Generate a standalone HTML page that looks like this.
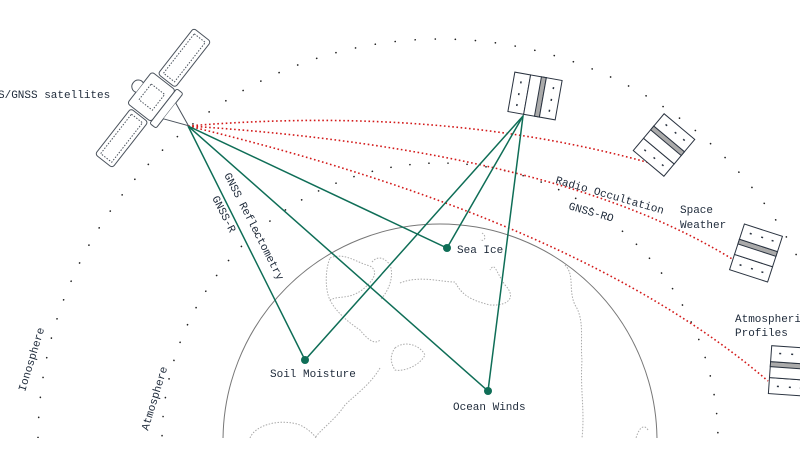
<!DOCTYPE html>
<html><head><meta charset="utf-8"><style>
html,body{margin:0;padding:0;background:#fff;width:800px;height:449px;overflow:hidden;}
svg{display:block}
text{font-family:"Liberation Mono",monospace;font-size:11px;fill:#1e2a3a;}
</style></head><body>
<svg width="800" height="449" viewBox="0 0 800 449" xmlns="http://www.w3.org/2000/svg">
<defs>
<clipPath id="c"><rect x="0" y="0" width="800" height="438"/></clipPath>
<g id="gps">
 <rect x="-24" y="-20" width="16" height="40" fill="#fff" stroke="#2a3340" stroke-width="1"/>
 <rect x="-8" y="-20" width="16" height="40" fill="#fff" stroke="#2a3340" stroke-width="1"/>
 <rect x="3" y="-20" width="5" height="40" fill="#aaa" stroke="#2a3340" stroke-width="1"/>
 <rect x="8" y="-20" width="16" height="40" fill="#fff" stroke="#2a3340" stroke-width="1"/>
 <g fill="#2a3340"><rect x="-17" y="-12" width="1.5" height="2"/><rect x="-17" y="0" width="1.5" height="2"/><rect x="-17" y="11" width="1.5" height="2"/>
 <rect x="16" y="-12" width="1.5" height="2"/><rect x="16" y="0" width="1.5" height="2"/><rect x="16" y="11" width="1.5" height="2"/></g>
</g>
</defs>
<g clip-path="url(#c)">
<circle cx="440" cy="441" r="402" fill="none" stroke="#222" stroke-width="1.6" stroke-dasharray="0.1 20" stroke-linecap="round"/>
<circle cx="440" cy="441" r="278" fill="none" stroke="#222" stroke-width="1.6" stroke-dasharray="0.1 19" stroke-linecap="round"/>
<circle cx="440" cy="441" r="217" fill="none" stroke="#777" stroke-width="1"/>
<g fill="none" stroke="#aaa" stroke-width="1" stroke-dasharray="1.5 1.5">
<path d="M330 258 C345 252 355 262 370 266 C380 272 372 282 362 290 C348 300 340 295 330 300 C325 290 325 270 330 258Z"/>
<path d="M372 262 C378 255 385 258 390 265 C394 275 390 290 380 300"/>
<path d="M400 283 C420 275 440 282 455 282 C462 295 470 300 490 305 C512 306 515 295 505 285 C495 270 495 262 490 270"/>
<path d="M330 300 C335 310 345 320 360 330 C368 340 375 345 380 340"/>
<path d="M395 348 C405 340 420 345 425 355 C420 365 405 372 395 370 C390 362 390 355 395 348Z"/>
<path d="M380 368 C370 385 355 395 345 405 C335 420 320 430 315 438"/>
<path d="M250 438 C255 425 280 418 300 425 C310 430 315 436 316 438"/>
<path d="M565 265 C575 275 568 290 575 305 C585 320 580 340 582 360 C580 390 585 410 582 438"/>
<path d="M648 430 C645 425 640 425 636 438"/>
<path d="M482 233 C487 236 485 242 480 240"/>
</g>
<g fill="none" stroke="#d31a1a" stroke-width="1.6" stroke-dasharray="1.6 2.6">
<path d="M188 126 Q440 105 650 163"/>
<path d="M188 126 Q560 150 737 262"/>
<path d="M188 126 Q580 220 768 381"/>
</g>
<g stroke="#0f6e57" stroke-width="1.5" fill="none">
<path d="M188 126 L305 360 L523 116 L488 391 L188 126"/>
<path d="M188 126 L447 248 L523 116"/>
</g>
<g fill="#0f6e57"><circle cx="305" cy="360" r="4"/><circle cx="447" cy="248" r="4"/><circle cx="488" cy="391" r="4"/></g>
<g transform="translate(153,98) rotate(38)" fill="#fff" stroke="#4a525c" stroke-width="1">
 <rect x="-11" y="-80" width="22" height="58" rx="3"/>
 <rect x="-7" y="-76" width="14" height="50" stroke-dasharray="1.5 1.5"/>
 <rect x="-11" y="22" width="22" height="58" rx="3"/>
 <rect x="-7" y="26" width="14" height="50" stroke-dasharray="1.5 1.5"/>
 <rect x="-17" y="-20" width="30" height="40" rx="3"/>
 <rect x="-10" y="-10" width="17" height="20" stroke-dasharray="1.5 1.5"/>
 <rect x="13" y="-22" width="8" height="44" rx="2"/>
 <path d="M-17 -6 a6 6 0 0 0 -8 6 a6 6 0 0 0 8 6"/>
 <path d="M21 -10 L45 0 L21 10"/>
</g>
<use href="#gps" transform="translate(535,96) rotate(10)"/>
<use href="#gps" transform="translate(664,145) rotate(-50)"/>
<use href="#gps" transform="translate(756,253) rotate(-72)"/>
<use href="#gps" transform="translate(790,371) rotate(-86)"/>
<text x="-2" y="98">S/GNSS satellites</text>
<text x="457" y="253">Sea Ice</text>
<text x="270" y="377">Soil Moisture</text>
<text x="453" y="410">Ocean Winds</text>
<text x="680" y="213">Space</text>
<text x="680" y="228">Weather</text>
<text x="735" y="322">Atmospheric</text>
<text x="735" y="336">Profiles</text>
<text transform="translate(555,183) rotate(16)">Radio Occultation</text>
<text transform="translate(568,209) rotate(16)">GNSS-RO</text>
<text transform="translate(224,175) rotate(63)">GNSS Reflectometry</text>
<text transform="translate(212,198) rotate(63)">GNSS-R</text>
<text transform="translate(25,392) rotate(-73)">Ionosphere</text>
<text transform="translate(148,431) rotate(-73)">Atmosphere</text>
</g>
</svg>
</body></html>
